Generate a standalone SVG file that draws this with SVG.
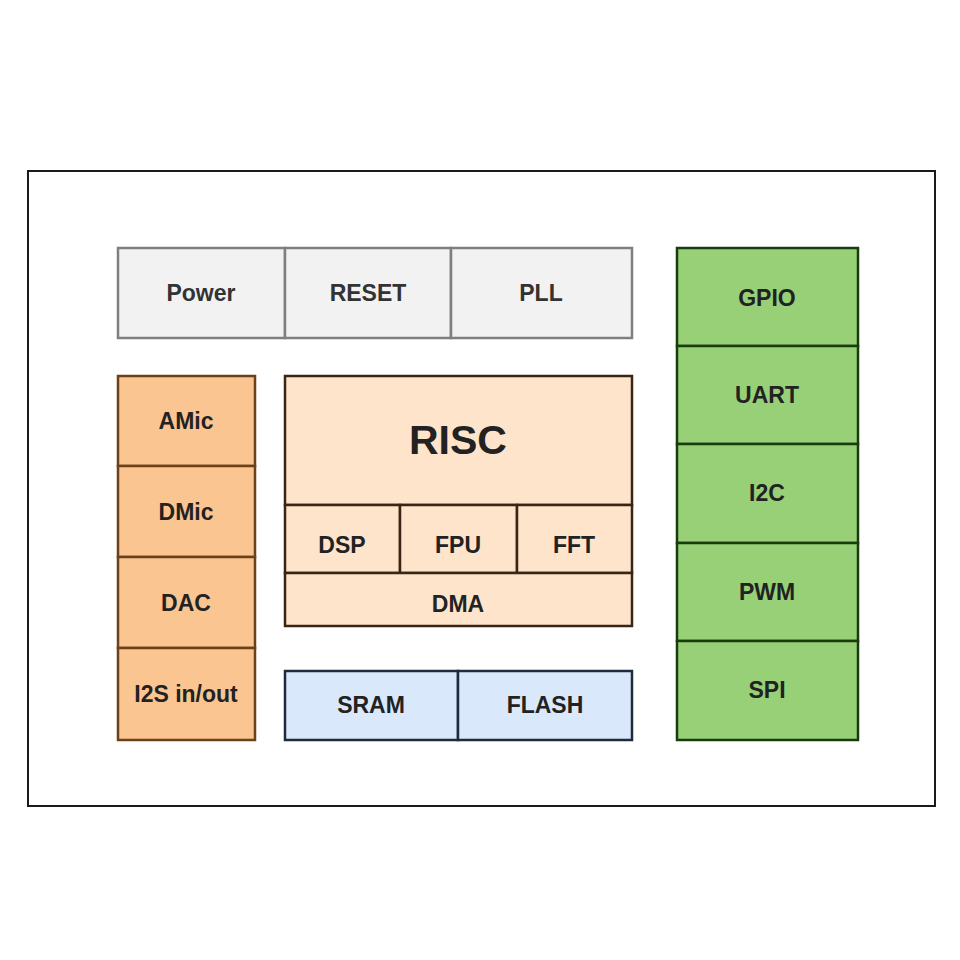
<svg xmlns="http://www.w3.org/2000/svg" width="960" height="960" viewBox="0 0 960 960">
<style>
text{font-family:"Liberation Sans",Arial,sans-serif;font-weight:bold;font-size:23px;text-anchor:middle;dominant-baseline:central;fill:#222}
.gray rect{fill:#f2f2f2;stroke:#7f7f7f;stroke-width:2.5}
.gray text{fill:#333}
.orange rect{fill:#fac591;stroke:#6b4218;stroke-width:2.5}
.peach rect{fill:#fde4cb;stroke:#3a2514;stroke-width:2.5}
.blue rect{fill:#dae8fc;stroke:#1e2b3c;stroke-width:2.5}
.green rect{fill:#97d077;stroke:#183c0e;stroke-width:2.5}
</style>
<rect x="0" y="0" width="960" height="960" fill="#fff"/>
<rect id="frame" x="28" y="171" width="907" height="635" fill="#fff" stroke="#1a1a1a" stroke-width="2"/>
<g id="connectors"/>
<g class="gray">
<g id="power"><rect x="118" y="248" width="167" height="90"/><text x="201" y="293">Power</text></g>
<g id="reset"><rect x="285" y="248" width="166" height="90"/><text x="368" y="293">RESET</text></g>
<g id="pll"><rect x="451" y="248" width="181" height="90"/><text x="541" y="293">PLL</text></g>
</g>
<g class="orange">
<g id="amic"><rect x="118" y="376" width="137" height="90"/><text x="186" y="421">AMic</text></g>
<g id="dmic"><rect x="118" y="466" width="137" height="91"/><text x="186" y="512">DMic</text></g>
<g id="dac"><rect x="118" y="557" width="137" height="91"/><text x="186" y="603">DAC</text></g>
<g id="i2s"><rect x="118" y="648" width="137" height="92"/><text x="186" y="694">I2S in/out</text></g>
</g>
<g class="peach">
<g id="risc"><rect x="285" y="376" width="347" height="129"/><text x="458" y="440" style="font-size:41px">RISC</text></g>
<g id="dsp"><rect x="285" y="505" width="115" height="68"/><text x="342" y="545">DSP</text></g>
<g id="fpu"><rect x="400" y="505" width="117" height="68"/><text x="458" y="545">FPU</text></g>
<g id="fft"><rect x="517" y="505" width="115" height="68"/><text x="574" y="545">FFT</text></g>
<g id="dma"><rect x="285" y="573" width="347" height="53"/><text x="458" y="604">DMA</text></g>
</g>
<g class="blue">
<g id="sram"><rect x="285" y="671" width="173" height="69"/><text x="371" y="705">SRAM</text></g>
<g id="flash"><rect x="458" y="671" width="174" height="69"/><text x="545" y="705">FLASH</text></g>
</g>
<g class="green">
<g id="gpio"><rect x="677" y="248" width="181" height="98"/><text x="767" y="298">GPIO</text></g>
<g id="uart"><rect x="677" y="346" width="181" height="98"/><text x="767" y="395">UART</text></g>
<g id="i2c"><rect x="677" y="444" width="181" height="99"/><text x="767" y="493">I2C</text></g>
<g id="pwm"><rect x="677" y="543" width="181" height="98"/><text x="767" y="592">PWM</text></g>
<g id="spi"><rect x="677" y="641" width="181" height="99"/><text x="767" y="690">SPI</text></g>
</g>
</svg>
